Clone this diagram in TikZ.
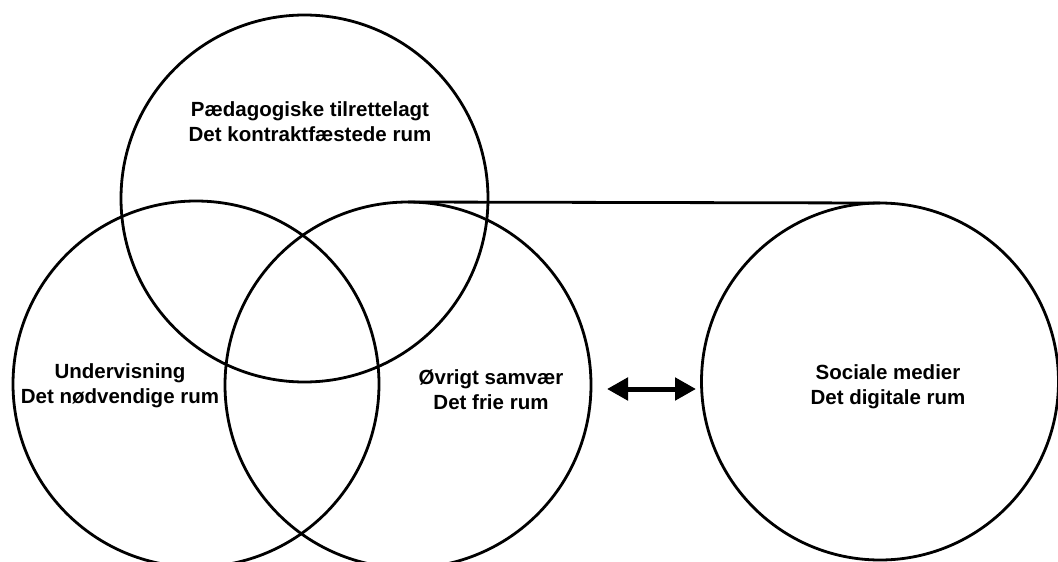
\documentclass[tikz,border=0pt]{standalone}
\usepackage{fontspec}
\setmainfont{Liberation Sans}
\usetikzlibrary{arrows.meta}
\begin{document}
\begin{tikzpicture}[x=1pt,y=-1pt,
  ring/.style={draw=black,line width=2.8pt,circle,inner sep=0pt,outer sep=0pt,minimum size=#1},
  label/.style={anchor=base,align=center,font=\bfseries\fontsize{20.5pt}{25pt}\selectfont,inner sep=0pt},
  link/.style={draw=black,line width=2.8pt},
  dbl/.style={line width=5pt,{Triangle[length=21pt,width=22pt]}-{Triangle[length=21pt,width=22pt]}}]
\useasboundingbox (0,0) rectangle (1058,562);
\clip (0,0) rectangle (1058,562);
\node[ring=367pt] (top) at (304.5,198.5) {};
\node[ring=366pt] (left) at (196,384) {};
\node[ring=366pt] (mid) at (408,385) {};
\node[ring=357pt] (right) at (880,381.5) {};
\draw[link] (mid.north) -- (right.north);
\node[label] (ttop) at (310,141.5) {Pædagogiske tilrettelagt\\Det kontraktfæstede rum};
\node[label] (tleft) at (120,403.5) {Undervisning\\Det nødvendige rum};
\node[label] (tmid) at (491,409) {Øvrigt samvær\\Det frie rum};
\node[label] (tright) at (888,404) {Sociale medier\\Det digitale rum};
\coordinate (al) at (607,389);
\coordinate (ar) at (696,389);
\draw[dbl] (al) -- (ar);
\end{tikzpicture}
\end{document}
